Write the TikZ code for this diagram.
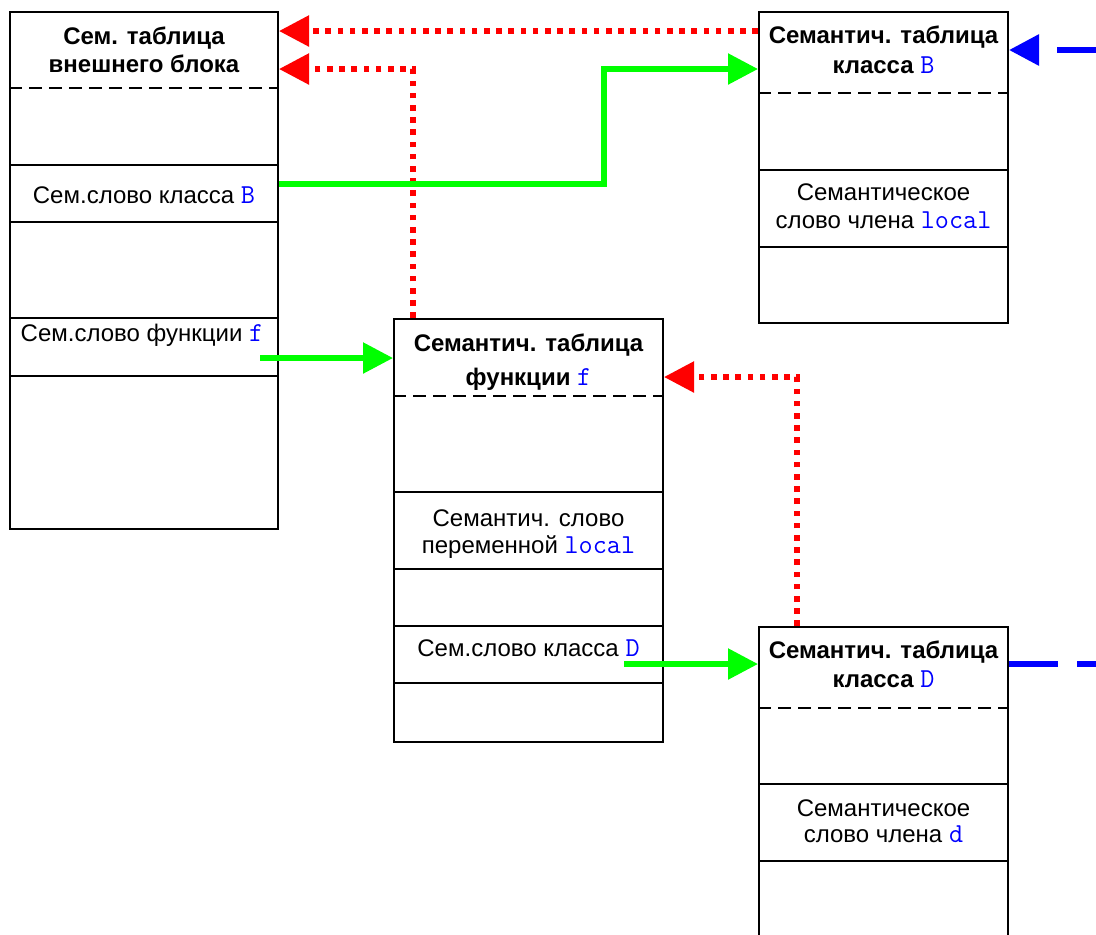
\documentclass[tikz,border=0pt]{standalone}
\usepackage{fontspec}
\setmainfont{Liberation Sans}
\usetikzlibrary{arrows.meta,fit}
% identifiers in the labels: blue typewriter text
\newcommand\idf[1]{{\fontsize{13.7pt}{14pt}\ttfamily\mdseries\color{blue}#1}}
\begin{document}
\begin{tikzpicture}[x=0.5pt,y=-0.5pt,
  tbl/.style={draw=black,line width=1pt,inner sep=0pt},
  rowline/.style={draw=black,line width=1pt},
  headline/.style={draw=black,line width=1pt,dash pattern=on 6.5pt off 3.5pt},
  lbl/.style={anchor=base,inner sep=0pt,font=\fontsize{12pt}{14pt}\selectfont},
  ttl/.style={anchor=base,inner sep=0pt,font=\fontsize{12pt}{14pt}\selectfont\bfseries},
  tip/.style={-{Triangle[length=15pt,width=15pt]}},
  parentlink/.style={tip,draw=red,line width=2.75pt,dash pattern=on 2.8pt off 3.3pt},
  wordlink/.style={tip,draw=green,line width=2.75pt},
  extlink/.style={draw=blue,line width=3pt,dash pattern=on 24.5pt off 9.5pt},
]
\useasboundingbox (0,0) rectangle (1096,934);
\clip (0,0) rectangle (1096,934);

% ---- semantic table of the outer block
\node[tbl,fit={(10,12) (278,529)}] (A) {};
\draw[headline] (A.west |- 0,88) -- (A.east |- 0,88);
\foreach \yy in {165,222,318,376} \draw[rowline] (A.west |- 0,\yy) -- (A.east |- 0,\yy);
\node[ttl] (A1) at (144,44) {Сем. таблица};
\node[ttl] (A2) at (144,72) {внешнего блока};
\node[lbl] (A3) at (144,203) {Сем.слово класса \idf{B}};
\node[lbl] (A4) at (142,341) {Сем.слово функции \idf{f}};

% ---- semantic table of class B
\node[tbl,fit={(759,12) (1008,323)}] (B) {};
\draw[headline] (B.west |- 0,93) -- (B.east |- 0,93);
\foreach \yy in {170,247} \draw[rowline] (B.west |- 0,\yy) -- (B.east |- 0,\yy);
\node[ttl] (B1) at (883.5,43) {Семантич. таблица};
\node[ttl] (B2) at (883.5,73) {класса \idf{B}};
\node[lbl] (B3) at (883.5,200) {Семантическое};
\node[lbl] (B4) at (883.5,228) {слово члена \idf{local}};

% ---- semantic table of function f
\node[tbl,fit={(394,319) (663,742)}] (F) {};
\draw[headline] (F.west |- 0,396) -- (F.east |- 0,396);
\foreach \yy in {492,569,626,683} \draw[rowline] (F.west |- 0,\yy) -- (F.east |- 0,\yy);
\node[ttl] (F1) at (528.5,351) {Семантич. таблица};
\node[ttl] (F2) at (528.5,385) {функции \idf{f}};
\node[lbl] (F3) at (528.5,526) {Семантич. слово};
\node[lbl] (F4) at (528.5,553) {переменной \idf{local}};
\node[lbl] (F5) at (528.5,656) {Сем.слово класса \idf{D}};

% ---- semantic table of class D
\node[tbl,fit={(759,627) (1008,950)}] (D) {};
\draw[headline] (D.west |- 0,708) -- (D.east |- 0,708);
\foreach \yy in {784,861} \draw[rowline] (D.west |- 0,\yy) -- (D.east |- 0,\yy);
\node[ttl] (D1) at (883.5,658) {Семантич. таблица};
\node[ttl] (D2) at (883.5,687) {класса \idf{D}};
\node[lbl] (D3) at (883.5,816) {Семантическое};
\node[lbl] (D4) at (883.5,842) {слово члена \idf{d}};

% ---- connector end points
\coordinate (fbend) at (413,0);
\coordinate (gbend) at (604,0);
\coordinate (dbend) at (797,0);
\coordinate (fword) at (260,358);
\coordinate (dword) at (624,664);
\coordinate (bext) at (1106,50);
\coordinate (dext) at (1170,664);

% red dotted links to the enclosing table
\draw[parentlink] (B.west |- 0,31) -- (A.east |- 0,31);
\draw[parentlink] (F.north -| fbend) |- (A.east |- 0,69);
\draw[parentlink] (D.north -| dbend) |- (F.east |- 0,377);

% green links from semantic words to their tables
\draw[wordlink] (A.east |- 0,184) -| (gbend |- B.west |- 0,69) -- (B.west |- 0,69);
\draw[wordlink] (fword) -- (F.west |- fword);
\draw[wordlink] (dword) -- (D.west |- dword);

% blue dashed links leaving to the right
\draw[extlink,tip] (bext) -- (B.east |- bext);
\draw[extlink] (D.east |- dext) -- (dext);
\end{tikzpicture}
\end{document}
